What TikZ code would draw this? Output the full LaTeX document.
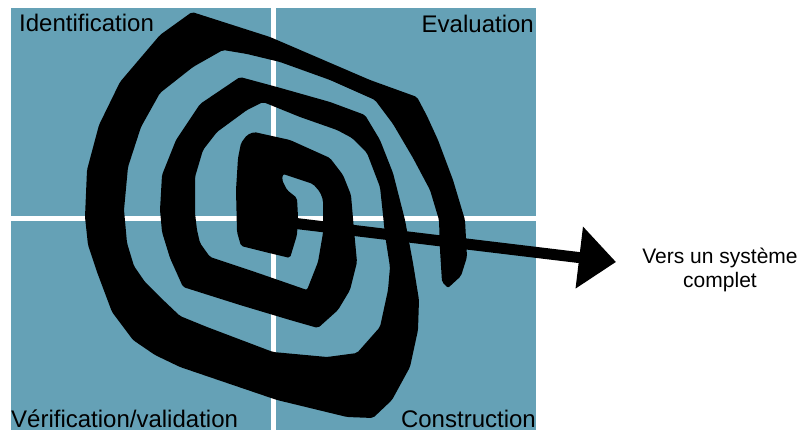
\documentclass[tikz,border=0pt]{standalone}
\usepackage{fontspec}
\setmainfont{Liberation Sans}
\usetikzlibrary{arrows.meta}
\definecolor{qblue}{RGB}{101,161,182}
\tikzset{
  quad/.style={fill=qblue},
  sep/.style={draw=white,line width=5pt},
  spiralarm/.style={fill=black,rounded corners=2pt},
  lbl/.style={inner sep=0pt,font=\fontsize{24}{28}\selectfont},
  note/.style={inner sep=0pt,align=center,font=\fontsize{21}{23.5}\selectfont},
  outarrow/.style={draw=black,line width=11pt,-{Triangle[length=37pt,width=60pt]}}
}
\begin{document}
\begin{tikzpicture}[x=1pt,y=-1pt]
\useasboundingbox (0,0) rectangle (802,430);
% quadrants
\fill[quad] (11,8) rectangle (536,432);
\draw[sep] (273.5,8) -- (273.5,432);
\draw[sep] (11,219) -- (536,219);
% spiral
\fill[spiralarm] (283,174) -- (282,180) -- (287,190) -- (297,198) -- (298,217) -- (297,235) -- (290,258)
  -- (265,252) -- (241,246)
  -- (237,232) -- (236,190) -- (238,158) -- (241,143) -- (247,135)
  -- (254,132) -- (290,140) -- (330,158)
  -- (343,175) -- (351,195) -- (354,230) -- (357,262) -- (350,290) -- (338,310) -- (318,328)
  -- (290,320) -- (240,305) -- (183,287)
  -- (170,258) -- (162,232) -- (160,210) -- (162,175) -- (176,140) -- (200,104) -- (240,77)
  -- (277,87) -- (330,102) -- (365,115)
  -- (380,140) -- (393,173) -- (405,220) -- (413,263) -- (419,300) -- (418,330) -- (410,367) -- (392,400) -- (373,418)
  -- (347,417) -- (277,400) -- (227,383) -- (180,367) -- (155,355) -- (133,340) -- (112,312) -- (97,272) -- (88,245)
  -- (85,217) -- (87,170) -- (99,125) -- (120,82) -- (160,35) -- (192,12)
  -- (270,37) -- (370,80) -- (417,97)
  -- (427,116) -- (438,140) -- (453,180) -- (465,220) -- (467,257) -- (461,276) -- (448,288)
  -- (442,282) -- (440,250) -- (439,220) -- (430,190) -- (413,158) -- (393,124) -- (375,100)
  -- (330,80) -- (280,62) -- (247,54) -- (223,50)
  -- (193,67) -- (160,93) -- (141,127) -- (128,167) -- (124,210) -- (127,243) -- (134,266) -- (145,282) -- (160,297) -- (180,316)
  -- (207,327) -- (273,352) -- (327,357) -- (357,353) -- (380,327) -- (388,290) -- (390,267)
  -- (385,235) -- (383,215) -- (380,187) -- (367,153) -- (352,138) -- (337,130) -- (300,117) -- (263,102)
  -- (247,110) -- (217,132) -- (203,150) -- (195,177) -- (195,213)
  -- (197,230) -- (200,243) -- (210,257)
  -- (258,273) -- (307,290)
  -- (318,262) -- (323,233) -- (323,200) -- (320,192) -- (313,184)
  -- cycle;
% arrow
\coordinate (spiralcenter) at (292,223);
\coordinate (arrowtip) at (616,262);
\draw[outarrow] (spiralcenter) -- (arrowtip);
% labels
\node[lbl,anchor=base west] (ident) at (19,32) {Identification};
\node[lbl,anchor=base east] (eval) at (534,33) {Evaluation};
\node[lbl,anchor=base west] (verif) at (11,427) {Vérification/validation};
\node[lbl,anchor=base east] (constr) at (536,427) {Construction};
\node[note,anchor=base] (vers) at (720,287) {Vers un système\\complet};
\end{tikzpicture}
\end{document}
